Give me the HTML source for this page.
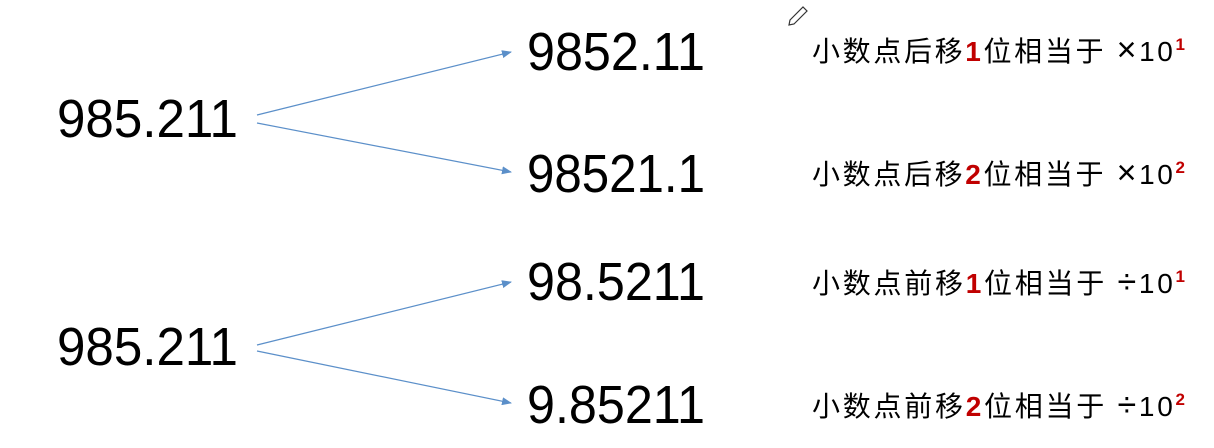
<!DOCTYPE html>
<html><head><meta charset="utf-8"><style>
html,body{margin:0;padding:0;background:#fff;}
svg{display:block;}
.big{font-family:"Liberation Sans",sans-serif;font-size:54px;fill:#000;}
.cn{font-family:"Liberation Sans","Noto Sans CJK SC",sans-serif;font-size:28px;fill:#000;}
.red{fill:#c00000;font-weight:bold;}
.op{font-size:34px;}
</style></head><body>
<svg width="1214" height="448" viewBox="0 0 1214 448">
<defs><marker id="ah" markerWidth="10" markerHeight="8" refX="9" refY="4" orient="auto" markerUnits="userSpaceOnUse"><path d="M0,0 L10,4 L0,8 z" fill="#5b8fc9"/></marker></defs>
<g stroke="#333" stroke-width="1.2" fill="none"><path d="M790,20 L803,7 L807,11 L794,24 L789,25 Z"/></g>
<text class="big" x="57" y="137" textLength="181" lengthAdjust="spacingAndGlyphs">985.211</text>
<text class="big" x="57" y="365" textLength="181" lengthAdjust="spacingAndGlyphs">985.211</text>
<g stroke="#5b8fc9" stroke-width="1.2" marker-end="url(#ah)">
<line x1="257" y1="115" x2="511" y2="52"/>
<line x1="257" y1="123" x2="511" y2="172"/>
<line x1="257" y1="345" x2="511" y2="282"/>
<line x1="257" y1="351" x2="511" y2="403"/>
</g>
<text class="big" x="527" y="70" textLength="178" lengthAdjust="spacingAndGlyphs">9852.11</text>
<text class="big" x="527" y="192" textLength="178" lengthAdjust="spacingAndGlyphs">98521.1</text>
<text class="big" x="527" y="300" textLength="178" lengthAdjust="spacingAndGlyphs">98.5211</text>
<text class="big" x="527" y="423" textLength="178" lengthAdjust="spacingAndGlyphs">9.85211</text>
<text class="cn" x="812" y="61" textLength="373">小数点后移<tspan class="red">1</tspan>位相当于 <tspan class="op">×</tspan>10<tspan class="red" font-size="17" dy="-11">1</tspan></text>
<text class="cn" x="812" y="184" textLength="373">小数点后移<tspan class="red">2</tspan>位相当于 <tspan class="op">×</tspan>10<tspan class="red" font-size="17" dy="-11">2</tspan></text>
<text class="cn" x="812" y="293" textLength="373">小数点前移<tspan class="red">1</tspan>位相当于 <tspan class="op">÷</tspan>10<tspan class="red" font-size="17" dy="-11">1</tspan></text>
<text class="cn" x="812" y="416" textLength="373">小数点前移<tspan class="red">2</tspan>位相当于 <tspan class="op">÷</tspan>10<tspan class="red" font-size="17" dy="-11">2</tspan></text>
</svg>
</body></html>
